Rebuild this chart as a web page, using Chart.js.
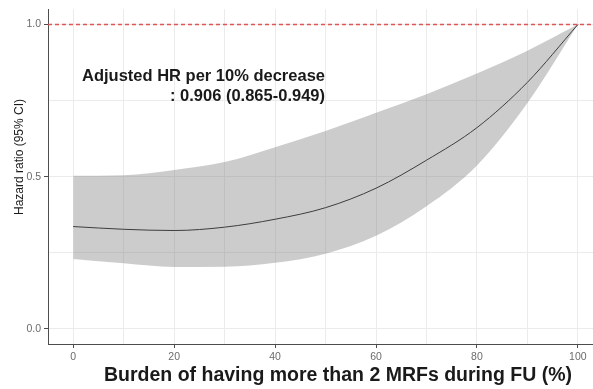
<!DOCTYPE html>
<html>
<head>
<meta charset="utf-8">
<script src="https://cdn.jsdelivr.net/npm/chart.js@4.4.0/dist/chart.umd.min.js"></script>
<style>
  html, body { margin: 0; padding: 0; background: #fff; }
  #wrap { width: 593px; height: 389px; }
</style>
</head>
<body>
<div id="wrap"><canvas id="chart"></canvas></div>
<script>
// Data
const burden = [0, 10, 20, 30, 40, 50, 60, 70, 80, 90, 100];
const hr     = [0.336, 0.327, 0.323, 0.334, 0.360, 0.398, 0.462, 0.554, 0.661, 0.810, 1.0];
const lower  = [0.229, 0.215, 0.203, 0.204, 0.217, 0.247, 0.306, 0.403, 0.537, 0.742, 1.0];
const upper  = [0.503, 0.505, 0.522, 0.548, 0.597, 0.650, 0.710, 0.771, 0.839, 0.914, 1.0];
const xTicks = [0, 10, 20, 30, 40, 50, 60, 70, 80, 90, 100];
const yTicks = [0, 0.25, 0.5, 0.75, 1];
const refHR = 1.0;

const FONT = "'Liberation Sans', Arial, sans-serif";
const pts = arr => arr.map((v, i) => ({ x: burden[i], y: v }));

// Dashed reference line, annotation and axis titles
const extras = {
  id: 'extras',
  beforeDatasetsDraw(chart) {
    const { ctx, chartArea, scales } = chart;
    const y = scales.y.getPixelForValue(refHR);
    ctx.save();
    ctx.strokeStyle = '#e05555';
    ctx.lineWidth = 1.5;
    ctx.setLineDash([4, 3]);
    ctx.beginPath();
    ctx.moveTo(chartArea.left, y);
    ctx.lineTo(chartArea.right, y);
    ctx.stroke();
    ctx.restore();
  },
  afterDraw(chart) {
    const { ctx } = chart;
    ctx.save();
    ctx.fillStyle = '#1a1a1a';
    ctx.font = 'bold 16.5px ' + FONT;
    ctx.textAlign = 'right';
    ctx.textBaseline = 'middle';
    ctx.fillText('Adjusted HR per 10% decrease', 325, 76);
    ctx.fillText(': 0.906 (0.865-0.949)', 325, 96);
    ctx.font = 'bold 19.5px ' + FONT;
    ctx.textAlign = 'center';
    ctx.fillText('Burden of having more than 2 MRFs during FU (%)', 338, 376);
    ctx.translate(20, 157);
    ctx.rotate(-Math.PI / 2);
    ctx.font = '12px ' + FONT;
    ctx.fillText('Hazard ratio (95% CI)', 0, 0);
    ctx.restore();
  }
};

new Chart(document.getElementById('chart'), {
  type: 'line',
  data: {
    datasets: [
      { data: pts(upper), borderWidth: 0, pointRadius: 0, fill: '+1', backgroundColor: 'rgba(128,128,128,0.4)', cubicInterpolationMode: 'monotone' },
      { data: pts(lower), borderWidth: 0, pointRadius: 0, fill: false, cubicInterpolationMode: 'monotone' },
      { data: pts(hr), borderColor: '#111', borderWidth: 1, pointRadius: 0, fill: false, cubicInterpolationMode: 'monotone' }
    ]
  },
  options: {
    responsive: true,
    maintainAspectRatio: false,
    animation: false,
    layout: { padding: { top: 3, right: 0, left: 0, bottom: 0 } },
    plugins: { legend: { display: false }, tooltip: { enabled: false } },
    scales: {
      x: {
        type: 'linear',
        min: -5,
        max: 103,
        afterBuildTicks: s => { s.ticks = xTicks.map(v => ({ value: v })); },
        afterFit: s => { s.height = 45; },
        grid: {
          color: '#ebebeb',
          tickColor: c => (c.tick && c.tick.value % 20 === 0 ? '#4d4d4d' : 'rgba(0,0,0,0)'),
          tickLength: 4
        },
        border: { color: '#4d4d4d', width: 1 },
        ticks: {
          color: '#6b6b6b',
          font: { family: FONT, size: 10.5 },
          padding: 3,
          maxRotation: 0,
          callback: v => (v % 20 === 0 ? String(v) : '')
        }
      },
      y: {
        min: -0.05,
        max: 1.05,
        afterBuildTicks: s => { s.ticks = yTicks.map(v => ({ value: v })); },
        afterFit: s => { s.width = 48; },
        grid: {
          color: '#ebebeb',
          tickColor: c => (c.tick && c.tick.value % 0.5 === 0 ? '#4d4d4d' : 'rgba(0,0,0,0)'),
          tickLength: 4
        },
        border: { color: '#4d4d4d', width: 1 },
        ticks: {
          color: '#6b6b6b',
          font: { family: FONT, size: 10.5 },
          padding: 3,
          callback: v => (v % 0.5 === 0 ? v.toFixed(1) : '')
        }
      }
    }
  },
  plugins: [extras]
});
</script>
</body>
</html>
